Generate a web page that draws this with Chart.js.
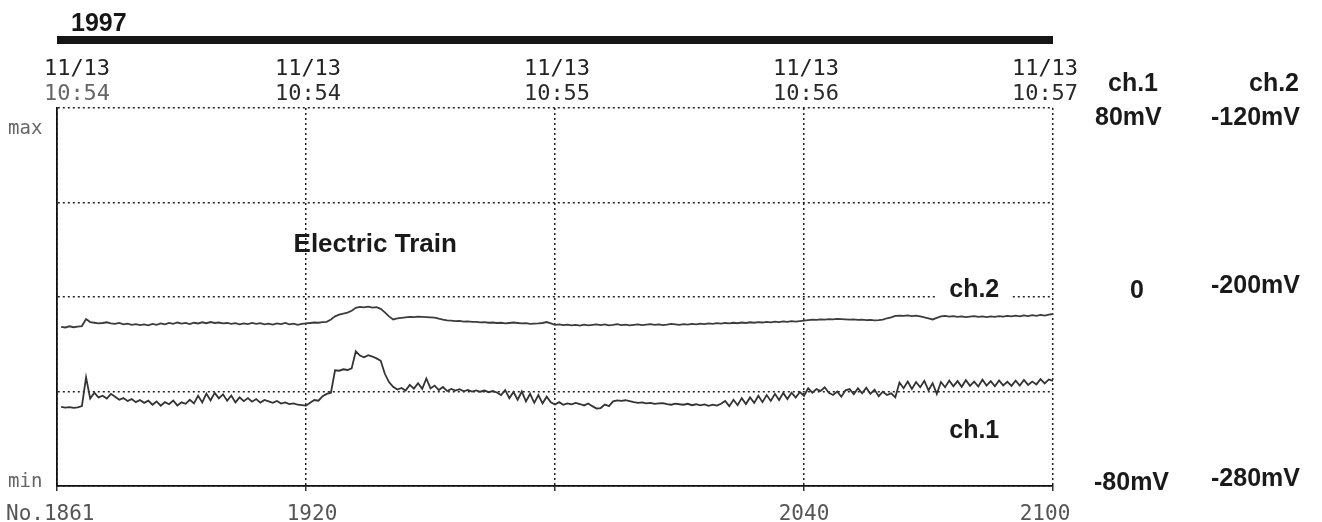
<!DOCTYPE html>
<html>
<head>
<meta charset="utf-8">
<script src="https://cdn.jsdelivr.net/npm/chart.js@4.4.1/dist/chart.umd.min.js"></script>
<style>
  html, body { margin: 0; padding: 0; background: #fff; }
  #wrap { position: relative; width: 1322px; height: 522px; }
</style>
</head>
<body>
<div id="wrap"><canvas id="rec" width="1322" height="522"></canvas></div>
<script>
// recorder samples No.1861 .. No.2100, one value per sample
const firstSample = 1861;

// ch.1 in mV (scale -80 .. 80)
const ch1 = [
  -46.5, -46.8, -46.6, -46.9, -46.7, -46.2, -34.0, -43.0, -40.5, -42.5,
  -41.8, -43.0, -41.0, -42.2, -43.5, -42.8, -44.0, -43.2, -44.5, -43.6,
  -44.8, -43.9, -45.6, -44.2, -46.0, -44.5, -45.4, -43.8, -45.9, -44.6,
  -45.2, -43.5, -45.0, -41.8, -44.6, -40.9, -43.8, -40.6, -42.9, -41.2,
  -43.9, -41.7, -44.6, -42.5, -44.1, -42.8, -44.3, -43.2, -44.7, -43.6,
  -44.2, -44.8, -44.0, -45.1, -44.6, -45.3, -45.0, -45.6, -45.8, -46.0,
  -44.8, -43.6, -43.9, -42.0, -41.0, -40.5, -31.0, -31.2, -30.6, -30.9,
  -30.2, -23.0, -24.8, -25.5, -24.6, -25.2, -26.0, -27.0, -32.5, -36.0,
  -38.0, -39.2, -38.5, -39.6, -37.2, -38.8, -36.5, -38.9, -34.5, -38.7,
  -37.5, -39.4, -38.1, -39.8, -38.9, -39.6, -39.0, -39.9, -39.3, -40.0,
  -39.5, -40.1, -39.6, -40.3, -39.8, -40.4, -41.5, -39.4, -42.8, -40.2,
  -43.5, -40.0, -44.2, -41.0, -44.8, -41.5, -45.0, -42.2, -44.6, -45.5,
  -44.5, -45.6, -45.0, -45.4, -44.8, -45.3, -45.9, -45.1, -46.2, -47.2,
  -47.0, -45.5, -46.2, -44.2, -43.8, -44.0, -43.7, -44.1, -44.5, -44.8,
  -44.6, -45.0, -44.8, -45.2, -45.0, -44.9, -45.3, -45.6, -45.1, -45.4,
  -45.6, -45.2, -45.8, -45.4, -45.9, -45.5, -46.1, -45.6, -46.0, -45.2,
  -44.0, -46.2, -43.5, -45.8, -42.8, -45.3, -42.5, -44.8, -41.8, -44.5,
  -41.5, -44.0, -41.0, -43.6, -40.6, -43.2, -40.5, -42.6, -40.2, -41.8,
  -38.6, -40.5, -39.0, -39.8, -38.2, -40.6, -41.5, -40.0, -42.2, -39.5,
  -39.0, -41.2, -38.6, -40.8, -38.4, -41.0, -39.2, -42.0, -40.1, -41.5,
  -40.8, -42.5, -36.2, -38.6, -35.8, -38.9, -36.0, -38.2, -35.5, -39.5,
  -36.5, -41.0, -36.0, -38.2, -35.4, -37.8, -35.6, -38.0, -35.2, -37.6,
  -35.8, -37.9, -35.0, -37.5, -35.6, -37.8, -35.3, -37.4, -35.9, -37.6,
  -35.4, -37.5, -35.1, -37.2, -35.8, -37.0, -34.8, -36.6, -34.9, -35.5
];

// ch.2 in mV (scale -280 .. -120)
const ch2 = [
  -212.6, -212.9, -212.4, -212.8, -212.5, -212.3, -209.3, -210.6, -210.9, -211.2,
  -211.0, -210.7, -211.2, -211.4, -211.0, -211.6, -211.3, -211.8, -211.5, -211.9,
  -211.6, -212.0, -211.4, -211.8, -211.2, -211.6, -211.0, -211.4, -210.8, -211.3,
  -211.0, -211.5, -210.9, -211.2, -210.7, -211.1, -210.6, -211.0, -210.8, -211.2,
  -211.0, -211.4, -211.1, -211.6, -211.2, -211.5, -211.0, -211.4, -211.1, -211.6,
  -211.3, -211.7, -211.2, -211.5, -211.0, -211.6, -211.3, -211.8, -211.4, -211.2,
  -211.0, -210.8, -210.9, -210.6, -210.5, -209.5, -208.2, -207.5, -207.0, -206.6,
  -205.8, -204.6, -204.2, -204.4, -204.1, -204.5, -204.3, -205.0, -206.5, -208.2,
  -209.5, -209.0, -208.8, -208.6, -208.4, -208.5, -208.3, -208.4, -208.5, -208.6,
  -208.7, -209.2, -209.6, -209.9, -210.0, -210.2, -210.1, -210.4, -210.3, -210.5,
  -210.5, -210.7, -210.6, -210.9, -210.8, -211.0, -210.9, -211.2, -211.0, -210.8,
  -211.0, -211.2, -211.1, -211.4, -211.3, -211.2, -211.0, -210.6, -211.2, -211.8,
  -211.6, -211.9, -211.7, -212.0, -211.8, -212.1, -211.7, -212.0, -211.8, -211.6,
  -211.9, -211.6, -212.0, -211.8, -211.5, -211.9, -211.7, -212.0, -211.8, -211.6,
  -211.9, -211.7, -211.5, -211.8, -211.6, -211.9, -211.7, -211.4, -211.6, -211.8,
  -211.5, -211.7, -211.4, -211.6, -211.3, -211.5, -211.2, -211.4, -211.1, -211.3,
  -211.0, -211.2, -210.9, -211.1, -210.8, -211.0, -210.7, -210.9, -210.6, -210.8,
  -210.5, -210.7, -210.4, -210.6, -210.3, -210.5, -210.2, -210.4, -210.2, -210.0,
  -209.8, -209.6, -209.7, -209.5, -209.6, -209.4, -209.5, -209.3, -209.4, -209.5,
  -209.6, -209.5, -209.7, -209.6, -209.8, -209.7, -209.9, -209.8, -209.6, -209.0,
  -208.6, -208.0, -207.9, -208.0, -207.8, -208.1, -207.9, -208.2, -208.6, -209.0,
  -209.5, -208.8, -208.2, -208.0, -208.3, -208.1, -208.4, -208.2, -208.5, -208.3,
  -208.1, -208.4, -208.2, -208.5, -208.2, -208.4, -208.1, -208.3, -208.0, -208.2,
  -207.9, -208.2, -207.8, -208.1, -207.7, -208.0, -207.6, -207.9, -207.5, -207.2
];

// axis divisions and their labels
const sampleTicks = [1860, 1920, 1980, 2040, 2100];
const sampleLabels = ['No.1861', '1920', '', '2040', '2100'];
const dateLabels = ['11/13', '11/13', '11/13', '11/13', '11/13'];
const timeLabels = ['10:54', '10:54', '10:55', '10:56', '10:57'];
const yearLabel = '1997';

const ch1Range = [-80, 80];
const ch2Range = [-280, -120];
const ch1Ticks = [80, 0, -80];
const ch1TickLabels = ['80mV', '0', '-80mV'];
const ch2Ticks = [-120, -200, -280];
const ch2TickLabels = ['-120mV', '-200mV', '-280mV'];

const toPoints = arr => arr.map((v, i) => ({ x: firstSample + i, y: v }));

const MONO = '"DejaVu Sans Mono", "Liberation Mono", monospace';
const BOLD = 'bold 25px "Liberation Sans", Arial, sans-serif';

const recorderText = {
  id: 'recorderText',
  afterDraw(chart) {
    const { ctx, chartArea: area, scales: { x, y, y2 } } = chart;
    ctx.save();

    // heavy bar over the time header
    ctx.fillStyle = '#161616';
    ctx.fillRect(area.left, 36, area.right - area.left, 8);

    ctx.font = BOLD;
    ctx.textAlign = 'left';
    ctx.textBaseline = 'alphabetic';
    ctx.fillText(yearLabel, area.left + 14, 31);

    // date / time header
    ctx.font = '22px ' + MONO;
    sampleTicks.forEach((v, i) => {
      const px = x.getPixelForValue(v);
      let cx = px + 2;
      if (i === 0) cx = px + 20;
      if (i === sampleTicks.length - 1) cx = px - 8;
      ctx.textAlign = 'center';
      ctx.fillStyle = '#222';
      ctx.fillText(dateLabels[i], cx, 75);
      ctx.fillStyle = i === 0 ? '#666' : '#2a2a2a';
      ctx.fillText(timeLabels[i], cx, 100);
    });

    // max / min marks on the left
    ctx.font = '19px ' + MONO;
    ctx.fillStyle = '#666';
    ctx.textAlign = 'left';
    ctx.fillText('max', 8, area.top + 26);
    ctx.fillText('min', 8, area.bottom + 1);

    // sample numbers under the axis
    ctx.font = '21px ' + MONO;
    ctx.fillStyle = '#555';
    sampleTicks.forEach((v, i) => {
      const px = x.getPixelForValue(v);
      if (!sampleLabels[i]) return;
      if (i === 0) {
        ctx.textAlign = 'left';
        ctx.fillText(sampleLabels[i], 6, 520);
      } else {
        ctx.textAlign = 'center';
        const cx = i === sampleTicks.length - 1 ? px - 8 : (i === 1 ? px + 6 : px);
        ctx.fillText(sampleLabels[i], cx, 520);
      }
    });

    // channel scales on the right
    ctx.font = BOLD;
    ctx.fillStyle = '#1a1a1a';
    ctx.textAlign = 'left';
    ctx.fillText('ch.1', 1108, 91);
    ctx.fillText('ch.2', 1249, 91);
    const ch1Offsets = [17, 1, 4];
    const ch1Left = [1095, 1130, 1094];
    ch1Ticks.forEach((v, i) => {
      ctx.fillText(ch1TickLabels[i], ch1Left[i], y.getPixelForValue(v) + ch1Offsets[i]);
    });
    const ch2Offsets = [17, -4, 0];
    ch2Ticks.forEach((v, i) => {
      ctx.fillText(ch2TickLabels[i], 1211, y2.getPixelForValue(v) + ch2Offsets[i]);
    });

    // annotations inside the plot
    ctx.font = 'bold 26px "Liberation Sans", Arial, sans-serif';
    ctx.fillText('Electric Train', x.getPixelForValue(1917), 252);

    ctx.font = BOLD;
    const ch2LabelY = y.getPixelForValue(0);
    ctx.fillStyle = '#fff';
    ctx.fillRect(x.getPixelForValue(2072), ch2LabelY - 9, 74, 18);
    ctx.fillStyle = '#1a1a1a';
    ctx.fillText('ch.2', x.getPixelForValue(2075), ch2LabelY);
    ctx.fillText('ch.1', x.getPixelForValue(2075), 438);

    ctx.restore();
  }
};

new Chart(document.getElementById('rec'), {
  type: 'line',
  data: {
    datasets: [
      {
        label: 'ch.1',
        data: toPoints(ch1),
        yAxisID: 'y',
        borderColor: '#333',
        borderWidth: 1.8,
        pointRadius: 0,
        tension: 0
      },
      {
        label: 'ch.2',
        data: toPoints(ch2),
        yAxisID: 'y2',
        borderColor: '#3c3c3c',
        borderWidth: 1.8,
        pointRadius: 0,
        tension: 0
      }
    ]
  },
  options: {
    responsive: false,
    animation: false,
    layout: { padding: { left: 57, top: 108, right: 269, bottom: 31 } },
    plugins: {
      legend: { display: false },
      tooltip: { enabled: false }
    },
    scales: {
      x: {
        type: 'linear',
        min: 1860,
        max: 2100,
        afterBuildTicks: scale => { scale.ticks = sampleTicks.map(v => ({ value: v })); },
        ticks: { display: false },
        grid: {
          color: '#222',
          lineWidth: 1.5,
          drawTicks: true,
          tickLength: 5,
          tickColor: '#333',
          tickBorderDash: []
        },
        border: { display: true, color: '#111', width: 1.8, dash: [2, 3] }
      },
      y: {
        min: ch1Range[0],
        max: ch1Range[1],
        ticks: { display: false, stepSize: 40 },
        grid: { color: '#222', lineWidth: 1.5, drawTicks: false },
        border: { display: true, color: '#111', width: 1.8, dash: [2, 3] }
      },
      y2: {
        min: ch2Range[0],
        max: ch2Range[1],
        display: false
      }
    }
  },
  plugins: [recorderText]
});
</script>
</body>
</html>
